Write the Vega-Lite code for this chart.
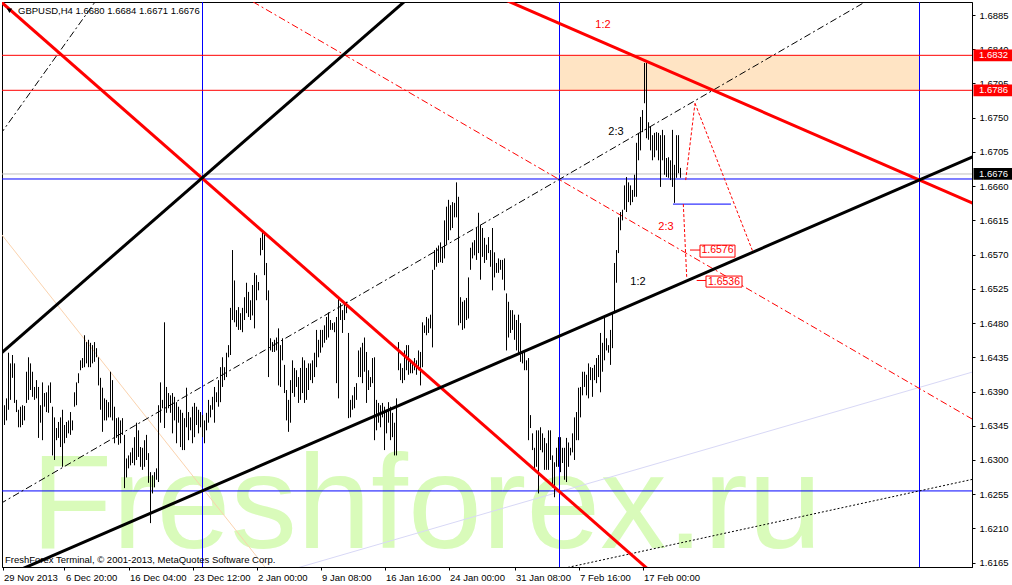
{
"$schema":"https://vega.github.io/schema/vega-lite/v6.json",
"width":970,"height":565,
"autosize":{"type":"none"},
"padding":{"left":2,"top":2,"right":40,"bottom":18},
"background":"#FFFFFF",
"config":{"view":{"stroke":"#000000","strokeWidth":1},"axis":{"grid":false,"title":null,"labelOverlap":false,"labelBound":false,"labelFlush":false,"domainColor":"#000000","tickColor":"#000000","labelColor":"#000000","labelFont":"Liberation Sans","labelFontSize":9.5}},
"datasets":{
"bars":[
{"i":0,"high":1.6348,"low":1.6313},{"i":1,"high":1.6372,"low":1.6346},{"i":2,"high":1.6381,"low":1.6352},{"i":3,"high":1.6441,"low":1.6366},{"i":4,"high":1.6427,"low":1.6379},{"i":5,"high":1.6438,"low":1.6408},{"i":6,"high":1.6427,"low":1.6375},{"i":7,"high":1.6379,"low":1.6363},{"i":8,"high":1.6366,"low":1.6343},{"i":9,"high":1.637,"low":1.6343},
{"i":10,"high":1.6372,"low":1.6346},{"i":11,"high":1.6371,"low":1.6352},{"i":12,"high":1.6416,"low":1.6375},{"i":13,"high":1.6435,"low":1.6379},{"i":14,"high":1.6427,"low":1.6392},{"i":15,"high":1.6416,"low":1.6383},{"i":16,"high":1.6396,"low":1.6379},{"i":17,"high":1.6405,"low":1.6381},{"i":18,"high":1.6396,"low":1.6329},{"i":19,"high":1.6372,"low":1.6349},
{"i":20,"high":1.6402,"low":1.6326},{"i":21,"high":1.6388,"low":1.637},{"i":22,"high":1.6389,"low":1.6363},{"i":23,"high":1.6398,"low":1.6362},{"i":24,"high":1.6402,"low":1.6375},{"i":25,"high":1.637,"low":1.6306},{"i":26,"high":1.6356,"low":1.63},{"i":27,"high":1.6342,"low":1.6326},{"i":28,"high":1.635,"low":1.6329},{"i":29,"high":1.6356,"low":1.6317},
{"i":30,"high":1.6366,"low":1.6291},{"i":31,"high":1.6346,"low":1.6322},{"i":32,"high":1.635,"low":1.6329},{"i":33,"high":1.6352,"low":1.6335},{"i":34,"high":1.6363,"low":1.6333},{"i":35,"high":1.6352,"low":1.6339},{"i":36,"high":1.6389,"low":1.637},{"i":37,"high":1.6402,"low":1.6372},{"i":38,"high":1.6414,"low":1.6401},{"i":39,"high":1.6431,"low":1.6418},
{"i":40,"high":1.6434,"low":1.6421},{"i":41,"high":1.6464,"low":1.6422},{"i":42,"high":1.6455,"low":1.6427},{"i":43,"high":1.6458,"low":1.6422},{"i":44,"high":1.6454,"low":1.6422},{"i":45,"high":1.6451,"low":1.6427},{"i":46,"high":1.6455,"low":1.6429},{"i":47,"high":1.6447,"low":1.6435},{"i":48,"high":1.6435,"low":1.6398},{"i":49,"high":1.6408,"low":1.6366},
{"i":50,"high":1.6395,"low":1.6337},{"i":51,"high":1.6381,"low":1.6352},{"i":52,"high":1.6379,"low":1.6352},{"i":53,"high":1.6376,"low":1.6356},{"i":54,"high":1.6416,"low":1.6356},{"i":55,"high":1.6405,"low":1.6352},{"i":56,"high":1.637,"low":1.6322},{"i":57,"high":1.6355,"low":1.6329},{"i":58,"high":1.6356,"low":1.632},{"i":59,"high":1.6352,"low":1.6322},
{"i":60,"high":1.6355,"low":1.6333},{"i":61,"high":1.6333,"low":1.6263},{"i":62,"high":1.6302,"low":1.6277},{"i":63,"high":1.6306,"low":1.6289},{"i":64,"high":1.631,"low":1.6293},{"i":65,"high":1.6316,"low":1.6296},{"i":66,"high":1.633,"low":1.6293},{"i":67,"high":1.6349,"low":1.63},{"i":68,"high":1.6339,"low":1.6304},{"i":69,"high":1.6317,"low":1.6291},
{"i":70,"high":1.6316,"low":1.6287},{"i":71,"high":1.6326,"low":1.6291},{"i":72,"high":1.6333,"low":1.63},{"i":73,"high":1.6309,"low":1.627},{"i":74,"high":1.6284,"low":1.6217},{"i":75,"high":1.628,"low":1.6256},{"i":76,"high":1.6284,"low":1.6264},{"i":77,"high":1.6289,"low":1.6274},{"i":78,"high":1.6372,"low":1.6271},{"i":79,"high":1.6402,"low":1.6349},
{"i":80,"high":1.6379,"low":1.6368},{"i":81,"high":1.6481,"low":1.6342},{"i":82,"high":1.6396,"low":1.6362},{"i":83,"high":1.6388,"low":1.6368},{"i":84,"high":1.6385,"low":1.6362},{"i":85,"high":1.6388,"low":1.6335},{"i":86,"high":1.6383,"low":1.6352},{"i":87,"high":1.6376,"low":1.6322},{"i":88,"high":1.637,"low":1.6349},{"i":89,"high":1.6366,"low":1.6317},
{"i":90,"high":1.6362,"low":1.6313},{"i":91,"high":1.6355,"low":1.6313},{"i":92,"high":1.6395,"low":1.6343},{"i":93,"high":1.6363,"low":1.6326},{"i":94,"high":1.6356,"low":1.6339},{"i":95,"high":1.637,"low":1.6322},{"i":96,"high":1.6375,"low":1.633},{"i":97,"high":1.637,"low":1.6346},{"i":98,"high":1.6366,"low":1.6335},{"i":99,"high":1.6363,"low":1.6343},
{"i":100,"high":1.6359,"low":1.633},{"i":101,"high":1.6352,"low":1.6322},{"i":102,"high":1.6362,"low":1.6339},{"i":103,"high":1.6379,"low":1.6349},{"i":104,"high":1.6372,"low":1.6356},{"i":105,"high":1.6383,"low":1.6366},{"i":106,"high":1.6396,"low":1.6349},{"i":107,"high":1.6389,"low":1.6376},{"i":108,"high":1.6405,"low":1.637},{"i":109,"high":1.6422,"low":1.6376},
{"i":110,"high":1.6435,"low":1.6396},{"i":111,"high":1.6422,"low":1.6405},{"i":112,"high":1.6441,"low":1.6409},{"i":113,"high":1.6451,"low":1.6435},{"i":114,"high":1.65,"low":1.6438},{"i":115,"high":1.6576,"low":1.6484},{"i":116,"high":1.6536,"low":1.6481},{"i":117,"high":1.6497,"low":1.6475},{"i":118,"high":1.6501,"low":1.6471},{"i":119,"high":1.6493,"low":1.6471},
{"i":120,"high":1.65,"low":1.6468},{"i":121,"high":1.6514,"low":1.6484},{"i":122,"high":1.6533,"low":1.6493},{"i":123,"high":1.6521,"low":1.6488},{"i":124,"high":1.651,"low":1.6484},{"i":125,"high":1.653,"low":1.649},{"i":126,"high":1.6546,"low":1.6473},{"i":127,"high":1.6543,"low":1.651},{"i":128,"high":1.6534,"low":1.6523},{"i":129,"high":1.6592,"low":1.6569},
{"i":130,"high":1.66,"low":1.6576},{"i":131,"high":1.66,"low":1.6543},{"i":132,"high":1.6559,"low":1.651},{"i":133,"high":1.6523,"low":1.6409},{"i":134,"high":1.646,"low":1.6444},{"i":135,"high":1.6455,"low":1.6442},{"i":136,"high":1.6458,"low":1.6442},{"i":137,"high":1.6461,"low":1.6444},{"i":138,"high":1.6473,"low":1.6398},{"i":139,"high":1.6451,"low":1.6396},
{"i":140,"high":1.646,"low":1.6431},{"i":141,"high":1.6425,"low":1.6388},{"i":142,"high":1.6392,"low":1.6352},{"i":143,"high":1.6379,"low":1.6337},{"i":144,"high":1.6405,"low":1.6349},{"i":145,"high":1.6431,"low":1.6388},{"i":146,"high":1.6421,"low":1.6383},{"i":147,"high":1.6418,"low":1.6396},{"i":148,"high":1.6409,"low":1.6375},{"i":149,"high":1.6421,"low":1.6379},
{"i":150,"high":1.6435,"low":1.6388},{"i":151,"high":1.6431,"low":1.6375},{"i":152,"high":1.6421,"low":1.6379},{"i":153,"high":1.6427,"low":1.6392},{"i":154,"high":1.6427,"low":1.6405},{"i":155,"high":1.6431,"low":1.6401},{"i":156,"high":1.6441,"low":1.6409},{"i":157,"high":1.6471,"low":1.6422},{"i":158,"high":1.6458,"low":1.6435},{"i":159,"high":1.6471,"low":1.6441},
{"i":160,"high":1.6471,"low":1.6448},{"i":161,"high":1.6477,"low":1.6454},{"i":162,"high":1.6488,"low":1.6458},{"i":163,"high":1.6494,"low":1.6461},{"i":164,"high":1.6484,"low":1.6471},{"i":165,"high":1.648,"low":1.6471},{"i":166,"high":1.6481,"low":1.6468},{"i":167,"high":1.6488,"low":1.6401},{"i":168,"high":1.6514,"low":1.6381},{"i":169,"high":1.6506,"low":1.6484},
{"i":170,"high":1.6497,"low":1.6467},{"i":171,"high":1.6506,"low":1.6484},{"i":172,"high":1.6508,"low":1.6493},{"i":173,"high":1.6467,"low":1.6355},{"i":174,"high":1.6379,"low":1.6356},{"i":175,"high":1.6385,"low":1.6366},{"i":176,"high":1.6396,"low":1.6368},{"i":177,"high":1.6401,"low":1.6379},{"i":178,"high":1.6444,"low":1.6409},{"i":179,"high":1.6448,"low":1.6409},
{"i":180,"high":1.6454,"low":1.6401},{"i":181,"high":1.6461,"low":1.6416},{"i":182,"high":1.6442,"low":1.6375},{"i":183,"high":1.6418,"low":1.6392},{"i":184,"high":1.6409,"low":1.6396},{"i":185,"high":1.6434,"low":1.6401},{"i":186,"high":1.6435,"low":1.6326},{"i":187,"high":1.6379,"low":1.6339},{"i":188,"high":1.6375,"low":1.6349},{"i":189,"high":1.6372,"low":1.6343},
{"i":190,"high":1.6375,"low":1.6356},{"i":191,"high":1.637,"low":1.6313},{"i":192,"high":1.6366,"low":1.6335},{"i":193,"high":1.6376,"low":1.6349},{"i":194,"high":1.637,"low":1.6326},{"i":195,"high":1.6362,"low":1.633},{"i":196,"high":1.6349,"low":1.6306},{"i":197,"high":1.6381,"low":1.6306},{"i":198,"high":1.6455,"low":1.6418},{"i":199,"high":1.6427,"low":1.6405},
{"i":200,"high":1.6421,"low":1.6401},{"i":201,"high":1.6444,"low":1.6405},{"i":202,"high":1.6451,"low":1.6418},{"i":203,"high":1.6451,"low":1.6412},{"i":204,"high":1.6431,"low":1.6414},{"i":205,"high":1.6427,"low":1.6414},{"i":206,"high":1.6434,"low":1.6418},{"i":207,"high":1.6431,"low":1.6412},{"i":208,"high":1.6444,"low":1.6418},{"i":209,"high":1.6442,"low":1.6398},
{"i":210,"high":1.6481,"low":1.6422},{"i":211,"high":1.6477,"low":1.6467},{"i":212,"high":1.6488,"low":1.6464},{"i":213,"high":1.6486,"low":1.6467},{"i":214,"high":1.6491,"low":1.6473},{"i":215,"high":1.655,"low":1.6448},{"i":216,"high":1.6576,"low":1.655},{"i":217,"high":1.6579,"low":1.6554},{"i":218,"high":1.6582,"low":1.6559},{"i":219,"high":1.6586,"low":1.656},
{"i":220,"high":1.658,"low":1.6559},{"i":221,"high":1.6615,"low":1.6565},{"i":222,"high":1.6633,"low":1.6583},{"i":223,"high":1.6642,"low":1.6589},{"i":224,"high":1.6635,"low":1.6602},{"i":225,"high":1.6639,"low":1.6605},{"i":226,"high":1.6638,"low":1.6619},{"i":227,"high":1.6665,"low":1.6619},{"i":228,"high":1.6646,"low":1.6477},{"i":229,"high":1.6514,"low":1.648},
{"i":230,"high":1.6508,"low":1.6471},{"i":231,"high":1.651,"low":1.6473},{"i":232,"high":1.6513,"low":1.6484},{"i":233,"high":1.654,"low":1.6486},{"i":234,"high":1.6579,"low":1.655},{"i":235,"high":1.6586,"low":1.6565},{"i":236,"high":1.6589,"low":1.6569},{"i":237,"high":1.6605,"low":1.6563},{"i":238,"high":1.6625,"low":1.6572},{"i":239,"high":1.6609,"low":1.6537},
{"i":240,"high":1.6605,"low":1.6567},{"i":241,"high":1.6592,"low":1.6559},{"i":242,"high":1.6583,"low":1.6563},{"i":243,"high":1.6593,"low":1.6572},{"i":244,"high":1.6576,"low":1.6554},{"i":245,"high":1.6605,"low":1.6523},{"i":246,"high":1.6573,"low":1.654},{"i":247,"high":1.6559,"low":1.6546},{"i":248,"high":1.6565,"low":1.6546},{"i":249,"high":1.6563,"low":1.655},
{"i":250,"high":1.6563,"low":1.6537},{"i":251,"high":1.6565,"low":1.6523},{"i":252,"high":1.6519,"low":1.6444},{"i":253,"high":1.6508,"low":1.6461},{"i":254,"high":1.6497,"low":1.6467},{"i":255,"high":1.6497,"low":1.6471},{"i":256,"high":1.6491,"low":1.6458},{"i":257,"high":1.6484,"low":1.6444},{"i":258,"high":1.6491,"low":1.6441},{"i":259,"high":1.648,"low":1.6429},
{"i":260,"high":1.6442,"low":1.6427},{"i":261,"high":1.6444,"low":1.6418},{"i":262,"high":1.6431,"low":1.6418},{"i":263,"high":1.6434,"low":1.6326},{"i":264,"high":1.6359,"low":1.6342},{"i":265,"high":1.6335,"low":1.6313},{"i":266,"high":1.6316,"low":1.6289},{"i":267,"high":1.6339,"low":1.6291},{"i":268,"high":1.6339,"low":1.6256},{"i":269,"high":1.6343,"low":1.6313},
{"i":270,"high":1.6335,"low":1.631},{"i":271,"high":1.6329,"low":1.6287},{"i":272,"high":1.6322,"low":1.6287},{"i":273,"high":1.6339,"low":1.6287},{"i":274,"high":1.6339,"low":1.63},{"i":275,"high":1.6306,"low":1.6264},{"i":276,"high":1.6297,"low":1.6251},{"i":277,"high":1.6316,"low":1.6291},{"i":278,"high":1.633,"low":1.6291},{"i":279,"high":1.633,"low":1.6284},
{"i":280,"high":1.6316,"low":1.6296},{"i":281,"high":1.6316,"low":1.6274},{"i":282,"high":1.6329,"low":1.6271},{"i":283,"high":1.6323,"low":1.6291},{"i":284,"high":1.6316,"low":1.6306},{"i":285,"high":1.6335,"low":1.631},{"i":286,"high":1.6356,"low":1.63},{"i":287,"high":1.6363,"low":1.6326},{"i":288,"high":1.6395,"low":1.6326},{"i":289,"high":1.6396,"low":1.6356},
{"i":290,"high":1.6416,"low":1.6385},{"i":291,"high":1.6416,"low":1.6396},{"i":292,"high":1.6412,"low":1.6385},{"i":293,"high":1.6427,"low":1.6381},{"i":294,"high":1.6422,"low":1.6405},{"i":295,"high":1.6421,"low":1.6383},{"i":296,"high":1.6425,"low":1.6405},{"i":297,"high":1.6434,"low":1.6401},{"i":298,"high":1.6438,"low":1.6409},{"i":299,"high":1.6467,"low":1.6389},
{"i":300,"high":1.6454,"low":1.6416},{"i":301,"high":1.6488,"low":1.6431},{"i":302,"high":1.646,"low":1.6444},{"i":303,"high":1.6451,"low":1.6441},{"i":304,"high":1.6471,"low":1.6425},{"i":305,"high":1.6493,"low":1.6447},{"i":306,"high":1.6559,"low":1.6493},{"i":307,"high":1.6576,"low":1.6533},{"i":308,"high":1.6619,"low":1.6572},{"i":309,"high":1.6626,"low":1.6602},
{"i":310,"high":1.6629,"low":1.6615},{"i":311,"high":1.6661,"low":1.6629},{"i":312,"high":1.6672,"low":1.6626},{"i":313,"high":1.6665,"low":1.6639},{"i":314,"high":1.6661,"low":1.6635},{"i":315,"high":1.6655,"low":1.6639},{"i":316,"high":1.6675,"low":1.6646},{"i":317,"high":1.6717,"low":1.6646},{"i":318,"high":1.673,"low":1.6694},{"i":319,"high":1.6751,"low":1.6707},
{"i":320,"high":1.676,"low":1.6731},{"i":321,"high":1.6822,"low":1.6769},{"i":322,"high":1.6822,"low":1.6723},{"i":323,"high":1.6744,"low":1.6721},{"i":324,"high":1.6738,"low":1.6707},{"i":325,"high":1.6727,"low":1.6694},{"i":326,"high":1.673,"low":1.6698},{"i":327,"high":1.6731,"low":1.6707},{"i":328,"high":1.673,"low":1.6694},{"i":329,"high":1.6727,"low":1.6659},
{"i":330,"high":1.6734,"low":1.6694},{"i":331,"high":1.6727,"low":1.6675},{"i":332,"high":1.6697,"low":1.6672},{"i":333,"high":1.6698,"low":1.6671},{"i":334,"high":1.6694,"low":1.6668},{"i":335,"high":1.6734,"low":1.6659},{"i":336,"high":1.6688,"low":1.6638},{"i":337,"high":1.6727,"low":1.6671},{"i":338,"high":1.6727,"low":1.6677},{"i":339,"high":1.6684,"low":1.6671}
],
"lines":[
{"seg":"r1","kind":"thickred","i":-6.25,"p":1.69151},{"seg":"r1","kind":"thickred","i":348.75,"p":1.60964},
{"seg":"r2","kind":"thickred","i":238.75,"p":1.69193},{"seg":"r2","kind":"thickred","i":488.75,"p":1.66333},
{"seg":"b1","kind":"thickblack","i":-6.25,"p":1.64276},{"seg":"b1","kind":"thickblack","i":208.75,"p":1.69205},
{"seg":"b2","kind":"thickblack","i":-1.25,"p":1.61442},{"seg":"b2","kind":"thickblack","i":488.75,"p":1.67026},
{"seg":"d1","kind":"dashdot","i":-1.25,"p":1.67274},{"seg":"d1","kind":"dashdot","i":53.75,"p":1.69297},
{"seg":"d2","kind":"dashdot","i":-1.25,"p":1.62423},{"seg":"d2","kind":"dashdot","i":438.75,"p":1.69135},
{"seg":"rd1","kind":"reddashdot","i":118.75,"p":1.69122},{"seg":"rd1","kind":"reddashdot","i":488.75,"p":1.63478},
{"seg":"pk","kind":"peach","i":-3.75,"p":1.66073},{"seg":"pk","kind":"peach","i":138.75,"p":1.61344},
{"seg":"lv","kind":"lavender","i":138.75,"p":1.61515},{"seg":"lv","kind":"lavender","i":488.75,"p":1.64185},
{"seg":"dt","kind":"dotted","i":278.75,"p":1.61565},{"seg":"dt","kind":"dotted","i":488.75,"p":1.62767},
{"seg":"bs","kind":"bluestub","i":335.25,"p":1.66364},{"seg":"bs","kind":"bluestub","i":364.25,"p":1.66364},
{"seg":"p1","kind":"projection","i":341.6,"p":1.6668},{"seg":"p1","kind":"projection","i":346.25,"p":1.67689},
{"seg":"p2","kind":"projection","i":346.25,"p":1.67689},{"seg":"p2","kind":"projection","i":375.25,"p":1.65733},
{"seg":"p3","kind":"projection","i":340.4,"p":1.66364},{"seg":"p3","kind":"projection","i":342.1,"p":1.65408},
{"seg":"c1","kind":"connector","i":343.75,"p":1.6576},{"seg":"c1","kind":"connector","i":348.75,"p":1.6576},
{"seg":"c2","kind":"connector","i":347.1,"p":1.6536},{"seg":"c2","kind":"connector","i":351.75,"p":1.6536}
]
},
"layer":[
{"data":{"values":[{"i":14.25,"p":1.61841,"t":"Freshforex.ru"}]},
 "mark":{"type":"text","font":"Liberation Sans","fontSize":133,"color":"#D9FBBA","align":"left","baseline":"alphabetic"},
 "encoding":{
  "x":{"field":"i","type":"quantitative","scale":{"domain":[-0.25,484.75],"nice":false,"zero":false},
   "axis":{"orient":"bottom","values":[0,31,63,95,127,159,191,223,256,288,320],"tickCount":40,
    "labelExpr":"['29 Nov 2013','6 Dec 20:00','16 Dec 04:00','23 Dec 12:00','2 Jan 00:00','9 Jan 08:00','16 Jan 16:00','24 Jan 00:00','31 Jan 08:00','7 Feb 16:00','17 Feb 00:00'][indexof([0,31,63,95,127,159,191,223,256,288,320], datum.value)]",
    "labelAlign":"left","labelBaseline":"top","labelFlush":false,"labelOverlap":false,"labelBound":false,"tickSize":3,"labelPadding":2,"labelOffset":1,"title":null,"grid":false}},
  "y":{"field":"p","type":"quantitative","scale":{"domain":[1.61593,1.69021],"nice":false,"zero":false},
   "axis":{"orient":"right","values":[1.6165,1.621,1.6255,1.63,1.6345,1.639,1.6435,1.648,1.6525,1.657,1.6615,1.666,1.6705,1.675,1.6795,1.684,1.6885],"tickCount":40,
    "format":".4f","tickSize":3,"labelPadding":4,"labelFlush":false,"labelOverlap":false,"labelBound":false,"title":null,"grid":false}},
  "text":{"field":"t"}}},
{"data":{"values":[{"i":278.5,"i2":458.5,"p":1.6786,"p2":1.6832}]},
 "mark":{"type":"rect","color":"#FFE4C4"},
 "encoding":{"x":{"field":"i","type":"quantitative","scale":{"domain":[-0.25,484.75],"nice":false,"zero":false}},"x2":{"field":"i2"},
  "y":{"field":"p","type":"quantitative","scale":{"domain":[1.61593,1.69021],"nice":false,"zero":false}},"y2":{"field":"p2"}}},
{"data":{"name":"lines"},"transform":[{"filter":"datum.kind==='peach'"}],
 "mark":{"type":"line","color":"#FBD3AE","strokeWidth":1,"clip":true},
 "encoding":{"x":{"field":"i","type":"quantitative","scale":{"domain":[-0.25,484.75],"nice":false,"zero":false}},
  "y":{"field":"p","type":"quantitative","scale":{"domain":[1.61593,1.69021],"nice":false,"zero":false}},"detail":{"field":"seg"}}},
{"data":{"name":"lines"},"transform":[{"filter":"datum.kind==='lavender'"}],
 "mark":{"type":"line","color":"#D8D8F6","strokeWidth":1,"clip":true},
 "encoding":{"x":{"field":"i","type":"quantitative","scale":{"domain":[-0.25,484.75],"nice":false,"zero":false}},
  "y":{"field":"p","type":"quantitative","scale":{"domain":[1.61593,1.69021],"nice":false,"zero":false}},"detail":{"field":"seg"}}},
{"data":{"values":[{"i":100},{"i":278.5},{"i":458.5}]},
 "mark":{"type":"rule","color":"#0000FF","strokeWidth":1},
 "encoding":{"x":{"field":"i","type":"quantitative","scale":{"domain":[-0.25,484.75],"nice":false,"zero":false}}}},
{"data":{"values":[{"p":1.66694},{"p":1.62593}]},
 "mark":{"type":"rule","color":"#0000FF","strokeWidth":1},
 "encoding":{"y":{"field":"p","type":"quantitative","scale":{"domain":[1.61593,1.69021],"nice":false,"zero":false}}}},
{"data":{"values":[{"p":1.6676}]},
 "mark":{"type":"rule","color":"#C0C0C0","strokeWidth":1},
 "encoding":{"y":{"field":"p","type":"quantitative","scale":{"domain":[1.61593,1.69021],"nice":false,"zero":false}}}},
{"data":{"values":[{"p":1.6832},{"p":1.6786}]},
 "mark":{"type":"rule","color":"#FF0000","strokeWidth":1},
 "encoding":{"y":{"field":"p","type":"quantitative","scale":{"domain":[1.61593,1.69021],"nice":false,"zero":false}}}},
{"data":{"name":"lines"},"transform":[{"filter":"datum.kind==='dashdot'"}],
 "mark":{"type":"line","color":"#000000","strokeWidth":1,"strokeDash":[7,3,2,3],"clip":true},
 "encoding":{"x":{"field":"i","type":"quantitative","scale":{"domain":[-0.25,484.75],"nice":false,"zero":false}},
  "y":{"field":"p","type":"quantitative","scale":{"domain":[1.61593,1.69021],"nice":false,"zero":false}},"detail":{"field":"seg"}}},
{"data":{"name":"lines"},"transform":[{"filter":"datum.kind==='reddashdot'"}],
 "mark":{"type":"line","color":"#FF0000","strokeWidth":1,"strokeDash":[7,3,2,3],"clip":true},
 "encoding":{"x":{"field":"i","type":"quantitative","scale":{"domain":[-0.25,484.75],"nice":false,"zero":false}},
  "y":{"field":"p","type":"quantitative","scale":{"domain":[1.61593,1.69021],"nice":false,"zero":false}},"detail":{"field":"seg"}}},
{"data":{"name":"lines"},"transform":[{"filter":"datum.kind==='dotted'"}],
 "mark":{"type":"line","color":"#000000","strokeWidth":1,"strokeDash":[2,2],"clip":true},
 "encoding":{"x":{"field":"i","type":"quantitative","scale":{"domain":[-0.25,484.75],"nice":false,"zero":false}},
  "y":{"field":"p","type":"quantitative","scale":{"domain":[1.61593,1.69021],"nice":false,"zero":false}},"detail":{"field":"seg"}}},
{"data":{"name":"bars"},
 "mark":{"type":"rule","color":"#000000","strokeWidth":1},
 "encoding":{"x":{"field":"i","type":"quantitative","scale":{"domain":[-0.25,484.75],"nice":false,"zero":false}},
  "y":{"field":"high","type":"quantitative","scale":{"domain":[1.61593,1.69021],"nice":false,"zero":false}},"y2":{"field":"low"}}},
{"data":{"name":"lines"},"transform":[{"filter":"datum.kind==='thickred'"}],
 "mark":{"type":"line","color":"#FF0000","strokeWidth":3,"clip":true},
 "encoding":{"x":{"field":"i","type":"quantitative","scale":{"domain":[-0.25,484.75],"nice":false,"zero":false}},
  "y":{"field":"p","type":"quantitative","scale":{"domain":[1.61593,1.69021],"nice":false,"zero":false}},"detail":{"field":"seg"}}},
{"data":{"name":"lines"},"transform":[{"filter":"datum.kind==='thickblack'"}],
 "mark":{"type":"line","color":"#000000","strokeWidth":3,"clip":true},
 "encoding":{"x":{"field":"i","type":"quantitative","scale":{"domain":[-0.25,484.75],"nice":false,"zero":false}},
  "y":{"field":"p","type":"quantitative","scale":{"domain":[1.61593,1.69021],"nice":false,"zero":false}},"detail":{"field":"seg"}}},
{"data":{"name":"lines"},"transform":[{"filter":"datum.kind==='bluestub'"}],
 "mark":{"type":"line","color":"#0000FF","strokeWidth":1,"clip":true},
 "encoding":{"x":{"field":"i","type":"quantitative","scale":{"domain":[-0.25,484.75],"nice":false,"zero":false}},
  "y":{"field":"p","type":"quantitative","scale":{"domain":[1.61593,1.69021],"nice":false,"zero":false}},"detail":{"field":"seg"}}},
{"data":{"name":"lines"},"transform":[{"filter":"datum.kind==='projection'"}],
 "mark":{"type":"line","color":"#FF0000","strokeWidth":1,"strokeDash":[3,2],"clip":true},
 "encoding":{"x":{"field":"i","type":"quantitative","scale":{"domain":[-0.25,484.75],"nice":false,"zero":false}},
  "y":{"field":"p","type":"quantitative","scale":{"domain":[1.61593,1.69021],"nice":false,"zero":false}},"detail":{"field":"seg"}}},
{"data":{"name":"lines"},"transform":[{"filter":"datum.kind==='connector'"}],
 "mark":{"type":"line","color":"#FF0000","strokeWidth":1,"clip":true},
 "encoding":{"x":{"field":"i","type":"quantitative","scale":{"domain":[-0.25,484.75],"nice":false,"zero":false}},
  "y":{"field":"p","type":"quantitative","scale":{"domain":[1.61593,1.69021],"nice":false,"zero":false}},"detail":{"field":"seg"}}},
{"data":{"values":[{"i":348.75,"i2":366.25,"p":1.65667,"p2":1.65825,"ic":357.5,"pc":1.6576,"t":"1.6576"},{"i":351.75,"i2":369.75,"p":1.65273,"p2":1.65418,"ic":360.75,"pc":1.65345,"t":"1.6536"}]},
 "layer":[
  {"mark":{"type":"rect","fill":"#FFFFFF","stroke":"#FF0000","strokeWidth":1},
   "encoding":{"x":{"field":"i","type":"quantitative","scale":{"domain":[-0.25,484.75],"nice":false,"zero":false}},"x2":{"field":"i2"},
    "y":{"field":"p","type":"quantitative","scale":{"domain":[1.61593,1.69021],"nice":false,"zero":false}},"y2":{"field":"p2"}}},
  {"mark":{"type":"text","color":"#FF0000","font":"Liberation Sans","fontSize":10.5,"align":"center","baseline":"middle"},
   "encoding":{"x":{"field":"ic","type":"quantitative","scale":{"domain":[-0.25,484.75],"nice":false,"zero":false}},
    "y":{"field":"pc","type":"quantitative","scale":{"domain":[1.61593,1.69021],"nice":false,"zero":false}},"text":{"field":"t"}}}
 ]},
{"data":{"values":[{"i":300.25,"p":1.68718,"t":"1:2"},{"i":331.75,"p":1.66062,"t":"2:3"}]},
 "mark":{"type":"text","color":"#FF0000","font":"Liberation Sans","fontSize":11,"align":"center","baseline":"middle"},
 "encoding":{"x":{"field":"i","type":"quantitative","scale":{"domain":[-0.25,484.75],"nice":false,"zero":false}},
  "y":{"field":"p","type":"quantitative","scale":{"domain":[1.61593,1.69021],"nice":false,"zero":false}},"text":{"field":"t"}}},
{"data":{"values":[{"i":306.75,"p":1.67311,"t":"2:3"},{"i":317.75,"p":1.65339,"t":"1:2"}]},
 "mark":{"type":"text","color":"#000000","font":"Liberation Sans","fontSize":11,"align":"center","baseline":"middle"},
 "encoding":{"x":{"field":"i","type":"quantitative","scale":{"domain":[-0.25,484.75],"nice":false,"zero":false}},
  "y":{"field":"p","type":"quantitative","scale":{"domain":[1.61593,1.69021],"nice":false,"zero":false}},"text":{"field":"t"}}},
{"data":{"values":[{"p":1.6832,"lo":1.68243,"hi":1.68397,"t":"1.6832","kind":"level"},{"p":1.6786,"lo":1.67783,"hi":1.67937,"t":"1.6786","kind":"level"},{"p":1.6676,"lo":1.66683,"hi":1.66837,"t":"1.6676","kind":"bid"}]},
 "layer":[
  {"transform":[{"filter":"datum.kind==='level'"}],"mark":{"type":"rect","color":"#FF0000"},
   "encoding":{"x":{"datum":485.5,"type":"quantitative","scale":{"domain":[-0.25,484.75],"nice":false,"zero":false}},"x2":{"datum":506},
    "y":{"field":"lo","type":"quantitative","scale":{"domain":[1.61593,1.69021],"nice":false,"zero":false}},"y2":{"field":"hi"}}},
  {"transform":[{"filter":"datum.kind==='bid'"}],"mark":{"type":"rect","color":"#000000"},
   "encoding":{"x":{"datum":485.5,"type":"quantitative","scale":{"domain":[-0.25,484.75],"nice":false,"zero":false}},"x2":{"datum":506},
    "y":{"field":"lo","type":"quantitative","scale":{"domain":[1.61593,1.69021],"nice":false,"zero":false}},"y2":{"field":"hi"}}},
  {"mark":{"type":"text","color":"#FFFFFF","font":"Liberation Sans","fontSize":9.5,"align":"left","baseline":"middle"},
   "encoding":{"x":{"datum":488.25,"type":"quantitative","scale":{"domain":[-0.25,484.75],"nice":false,"zero":false}},
    "y":{"field":"p","type":"quantitative","scale":{"domain":[1.61593,1.69021],"nice":false,"zero":false}},"text":{"field":"t"}}}
 ]},
{"data":{"values":[{"i":3.5,"p":1.68906}]},
 "mark":{"type":"point","shape":"triangle-down","size":28,"filled":true,"color":"#000000","opacity":1},
 "encoding":{"x":{"field":"i","type":"quantitative","scale":{"domain":[-0.25,484.75],"nice":false,"zero":false}},
  "y":{"field":"p","type":"quantitative","scale":{"domain":[1.61593,1.69021],"nice":false,"zero":false}}}},
{"data":{"values":[{"i":7.75,"p":1.68906,"t":"GBPUSD,H4  1.6680 1.6684 1.6671 1.6676"},{"i":1.25,"p":1.61683,"t":"FreshForex Terminal, © 2001-2013, MetaQuotes Software Corp."}]},
 "mark":{"type":"text","color":"#000000","font":"Liberation Sans","fontSize":9.5,"align":"left","baseline":"middle"},
 "encoding":{"x":{"field":"i","type":"quantitative","scale":{"domain":[-0.25,484.75],"nice":false,"zero":false}},
  "y":{"field":"p","type":"quantitative","scale":{"domain":[1.61593,1.69021],"nice":false,"zero":false}},"text":{"field":"t"}}}
]
}
